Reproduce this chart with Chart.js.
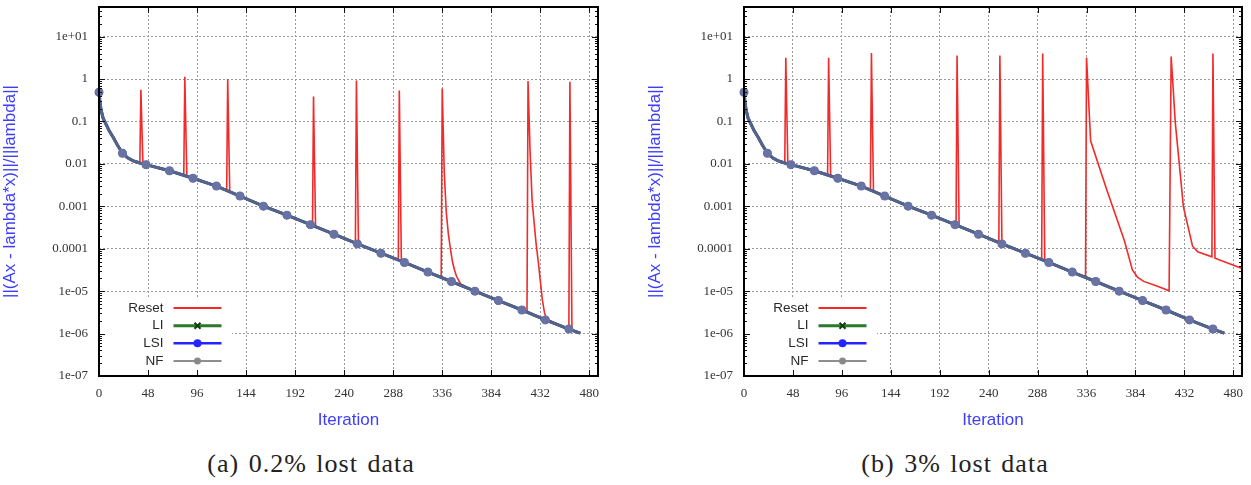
<!DOCTYPE html>
<html><head><meta charset="utf-8">
<script src="https://cdn.jsdelivr.net/npm/chart.js@4/dist/chart.umd.min.js"></script>
<style>
html,body{margin:0;padding:0;background:#fff;width:1251px;height:485px;overflow:hidden;position:relative}
.wrap{position:absolute;top:0;height:440px}
.cap{position:absolute;top:450px;width:400px;text-align:center;font-family:"Liberation Serif","DejaVu Serif",serif;font-size:26px;line-height:28px;letter-spacing:1px;word-spacing:2px;color:#222;white-space:nowrap}
</style></head><body>
<div class="wrap" style="left:0;width:625px"><canvas id="c1" width="625" height="440"></canvas></div>
<div class="wrap" style="left:645px;width:606px"><canvas id="c2" width="606" height="440"></canvas></div>
<div class="cap" style="left:111px">(a) 0.2% lost data</div>
<div class="cap" style="left:755px">(b) 3% lost data</div>
<script>
// ---- data ----
const X_TICKS = [0, 48, 96, 144, 192, 240, 288, 336, 384, 432, 480];
const Y_TICKS = [1e-7, 1e-6, 1e-5, 1e-4, 1e-3, 1e-2, 1e-1, 1, 10];
const Y_LABELS = ['1e-07', '1e-06', '1e-05', '0.0001', '0.001', '0.01', '0.1', '1', '1e+01'];
const SERIES_NAMES = ['Reset', 'LI', 'LSI', 'NF'];
const Y_TITLE = '||(Ax - lambda*x)||/||lambda||';
const X_TITLE = 'Iteration';

// LI, LSI and NF coincide
const NF_ITER = [0,1,2,4,7,10,14,18,23,28,33,40,46,69,92,115,138,161,184,207,230,253,276,299,322,345,368,391,414,437,460,471];
const NF_VAL = [0.49,0.28,0.19,0.12,0.085,0.06,0.042,0.028,0.0178,0.014,0.012,0.0105,0.0096,0.0069,0.0046,0.0030,0.00175,0.00101,0.00062,0.00037,0.00022,0.000130,0.0000785,0.0000475,0.0000282,0.0000169,0.0000100,0.0000060,0.0000036,0.0000021,0.00000128,0.00000102];
const MARKER_ITER = [0,23,46,69,92,115,138,161,184,207,230,253,276,299,322,345,368,391,414,437,460];

// (a) 0.2% lost data : Reset
const RESET_A_ITER = [0,1,2,4,7,10,14,18,23,28,33,40,41,43,46,69,83,84,86,92,115,125,126,128,138,161,184,207,209,210,212,230,251,252,254,276,293,294,296,299,322,335,336,338,340,342,344,346,348,350,352,354,368,391,414,419,420,422,424,426,428,430,432,434,436,438,460,461,463,471];
const RESET_A_VAL = [0.49,0.28,0.19,0.12,0.085,0.06,0.042,0.028,0.0178,0.014,0.012,0.0105,0.56,0.0101,0.0096,0.0069,0.0054,1.14,0.0052,0.0046,0.0030,0.00235,1.0,0.0022,0.00175,0.00101,0.00062,0.00037,0.00035,0.39,0.00034,0.00022,0.000137,0.93,0.000128,0.0000785,0.000054,0.54,0.000051,0.0000475,0.0000282,0.0000213,0.6,0.0063,0.00071,0.000224,0.0001,0.00005,0.0000316,0.0000224,0.0000182,0.0000148,0.00001,0.000006,0.0000036,0.0000032,0.9,0.02,0.0014,0.0004,0.000126,0.00005,0.0000178,0.0000063,0.0000032,0.0000022,0.00000128,0.87,0.0000012,0.00000102];

// (b) 3% lost data : Reset
const RESET_B_ITER = [0,1,2,4,7,10,14,18,23,28,33,40,41,43,46,69,82,83,85,92,115,124,125,127,138,161,184,207,208,209,211,230,250,251,253,276,292,293,295,299,322,335,336,340,356,373,381,386,392,405,417,419,421,423,431,440,445,459,460,462,488];
const RESET_B_VAL = [0.49,0.28,0.19,0.12,0.085,0.06,0.042,0.028,0.0178,0.014,0.012,0.0105,3.2,0.0101,0.0096,0.0069,0.0055,3.2,0.0053,0.0046,0.0030,0.0024,4.1,0.0023,0.00175,0.00101,0.00062,0.00037,0.00036,3.6,0.00034,0.00022,0.00014,3.6,0.00013,0.0000785,0.000055,4.0,0.000052,0.0000475,0.0000282,0.000022,3.2,0.035,0.0024,0.000158,0.0000316,0.0000214,0.000017,0.0000132,0.0000102,3.4,0.6,0.098,0.00098,0.000115,0.000085,0.0000646,4.0,0.00006,0.0000347];

// ---- styles ----
const C_RESET = '#f22a2a', C_LI = '#2a7a2a', C_LSI = '#2424ff', C_NF = '#8e8e8e';
const C_CURVE = '#56628e', C_MARK = '#6873a3';
const BLUE_TITLE = '#3d3dff';
const SANS = '"Liberation Sans", Arial, sans-serif';
const SERIF = '"Liberation Serif", "Times New Roman", serif';

const framePlugin = {
  id: 'frame',
  beforeDatasetsDraw(chart) {
    const a = chart.chartArea, ctx = chart.ctx;
    ctx.save();
    ctx.fillStyle = '#fff';
    ctx.fillRect(a.left, a.bottom - 77, 133, 77);
    ctx.restore();
  },
  afterDraw(chart) {
    const a = chart.chartArea, ctx = chart.ctx;
    const xs = chart.scales.x, ys = chart.scales.y;
    ctx.save();
    ctx.strokeStyle = '#111';
    ctx.lineWidth = 1;
    ctx.beginPath();
    X_TICKS.forEach(v => {
      const px = Math.round(xs.getPixelForValue(v)) + 0.5;
      ctx.moveTo(px, a.bottom); ctx.lineTo(px, a.bottom - 6);
      ctx.moveTo(px, a.top); ctx.lineTo(px, a.top + 6);
    });
    Y_TICKS.forEach(v => {
      for (let m = 1; m <= 9; m++) {
        const val = v * m;
        if (val >= ys.max) continue;
        const len = m === 1 ? 6 : 3;
        const py = Math.round(ys.getPixelForValue(val)) + 0.5;
        ctx.moveTo(a.left, py); ctx.lineTo(a.left + len, py);
        ctx.moveTo(a.right, py); ctx.lineTo(a.right - len, py);
      }
    });
    ctx.stroke();
    ctx.lineWidth = 2;
    ctx.strokeStyle = '#000';
    ctx.strokeRect(a.left, a.top, a.right - a.left, a.bottom - a.top);

    // key
    const rows = [a.bottom - 68, a.bottom - 50.3, a.bottom - 32.7, a.bottom - 15];
    const cols = [C_RESET, C_LI, C_LSI, C_NF];
    const widths = [1.8, 3, 2.4, 2];
    const tx = a.left + 64.5, l0 = a.left + 74.5, l1 = a.left + 122.5, mx = a.left + 98.5;
    ctx.font = '13.5px ' + SANS;
    ctx.textAlign = 'right';
    ctx.textBaseline = 'middle';
    SERIES_NAMES.forEach((name, i) => {
      const y = rows[i];
      ctx.fillStyle = '#2a2a2a';
      ctx.fillText(name, tx, y);
      ctx.strokeStyle = cols[i];
      ctx.lineWidth = widths[i];
      ctx.beginPath(); ctx.moveTo(l0, y); ctx.lineTo(l1, y); ctx.stroke();
      if (i === 1) {
        ctx.strokeStyle = '#0f3f0f'; ctx.lineWidth = 2;
        ctx.beginPath();
        ctx.moveTo(mx - 3, y - 3); ctx.lineTo(mx + 3, y + 3);
        ctx.moveTo(mx - 3, y + 3); ctx.lineTo(mx + 3, y - 3);
        ctx.stroke();
      } else if (i === 2) {
        ctx.fillStyle = C_LSI;
        ctx.beginPath(); ctx.arc(mx, y, 4, 0, Math.PI * 2); ctx.fill();
      } else if (i === 3) {
        ctx.fillStyle = '#8a8a8a';
        ctx.beginPath(); ctx.arc(mx, y, 3.5, 0, Math.PI * 2); ctx.fill();
      }
    });
    ctx.restore();
  }
};

function pts(xsArr, ysArr) { return xsArr.map((x, i) => ({ x: x, y: ysArr[i] })); }

function makeChart(id, resetIter, resetVal, padRight) {
  const curve = pts(NF_ITER, NF_VAL);
  const markR = r => ctx => (ctx.raw && MARKER_ITER.includes(ctx.raw.x)) ? r : 0;
  new Chart(document.getElementById(id), {
    type: 'line',
    data: {
      datasets: [
        { label: SERIES_NAMES[3], data: curve, borderColor: C_CURVE, backgroundColor: C_MARK,
          borderWidth: 3, pointRadius: markR(4.5), pointBorderWidth: 0, pointStyle: 'circle', order: 1, clip: false },
        { label: SERIES_NAMES[2], data: curve, borderColor: C_LSI, backgroundColor: C_LSI,
          borderWidth: 2.4, pointRadius: markR(4), pointBorderWidth: 0, order: 2, clip: false },
        { label: SERIES_NAMES[1], data: curve, borderColor: C_LI, backgroundColor: C_LI,
          borderWidth: 3, pointRadius: markR(4), pointStyle: 'crossRot', order: 3, clip: false },
        { label: SERIES_NAMES[0], data: pts(resetIter, resetVal), borderColor: C_RESET,
          borderWidth: 1.6, pointRadius: 0, order: 4 }
      ]
    },
    options: {
      responsive: false,
      animation: false,
      devicePixelRatio: 1,
      layout: { padding: { left: 0, right: padRight, top: 6, bottom: 0 } },
      plugins: { legend: { display: false }, tooltip: { enabled: false } },
      elements: { line: { tension: 0 } },
      scales: {
        x: {
          type: 'linear', min: 0, max: 488.5,
          afterBuildTicks: s => { s.ticks = X_TICKS.map(v => ({ value: v })); },
          afterFit: s => { s.height = 64; s.paddingLeft = 0; s.paddingRight = 0; },
          ticks: { font: { family: SERIF, size: 13 }, color: '#333', padding: 10, maxRotation: 0, autoSkip: false },
          grid: { color: '#9a9a9a', lineWidth: 1, drawTicks: false },
          border: { display: false, dash: [2, 2] },
          title: { display: true, text: X_TITLE, color: BLUE_TITLE, font: { family: SANS, size: 17 }, padding: { top: 0, bottom: 9 } }
        },
        y: {
          type: 'logarithmic', min: 1e-7, max: 50,
          afterBuildTicks: s => { s.ticks = Y_TICKS.map(v => ({ value: v })); },
          afterFit: s => { s.width = 99; s.paddingTop = 0; s.paddingBottom = 0; },
          ticks: { font: { family: SERIF, size: 13 }, color: '#333', padding: 11, autoSkip: false,
                   callback: v => { const i = Y_TICKS.findIndex(t => Math.abs(t - v) / t < 1e-6); return i >= 0 ? Y_LABELS[i] : ''; } },
          grid: { color: '#9a9a9a', lineWidth: 1, drawTicks: false },
          border: { display: false, dash: [2, 2] },
          title: { display: true, text: Y_TITLE, color: BLUE_TITLE, font: { family: SANS, size: 17 }, padding: { top: 0, bottom: 0 } }
        }
      }
    },
    plugins: [framePlugin]
  });
}

makeChart('c1', RESET_A_ITER, RESET_A_VAL, 27);
makeChart('c2', RESET_B_ITER, RESET_B_VAL, 9);
</script>
</body></html>
